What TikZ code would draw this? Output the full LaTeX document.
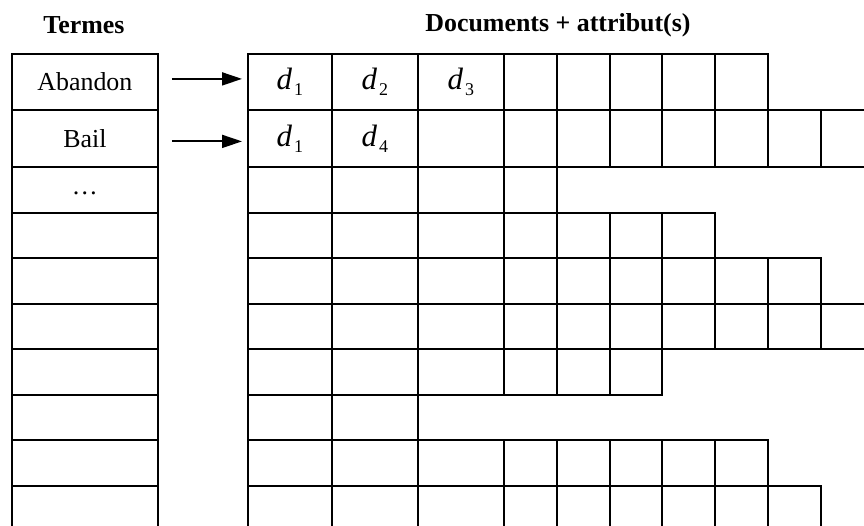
\documentclass[tikz,border=0pt]{standalone}
\usepackage{fontspec}
\setmainfont{Liberation Serif}
\usetikzlibrary{arrows.meta}
\usetikzlibrary{positioning}

\newcommand{\docd}[1]{{\fontsize{31}{32}\selectfont\textit{d}}\kern2bp{\fontsize{18}{20}\selectfont\raisebox{-6bp}{#1}}}
\newcommand{\colx}{{247,331,417,503,556,609,661,714,767,820,873,926}}

\tikzset{
  termbox/.style={draw, line width=1.8bp, inner sep=0pt, minimum width=146bp,
    anchor=north west, font=\fontsize{26}{30}\selectfont},
  cellbox/.style={draw, line width=1.8bp, inner sep=0pt, anchor=north west},
  headtext/.style={font=\bfseries\fontsize{26}{30}\selectfont},
  doclabel/.style={inner sep=0pt},
  pointer/.style={line width=1.8bp, -{Triangle[length=20bp, width=13bp]}}
}

\begin{document}
\begin{tikzpicture}[x=1bp, y=-1bp]
        \useasboundingbox (0,0) rectangle (864,526);
        \clip (0,0) rectangle (864,526);

        % Headings
        \node[headtext] (hterm) at (84,25) {Termes};
        \node[headtext] (hdoc) at (558,25) {Documents + attribut(s)};

        % Rows: number / top / height / cells / term
        \foreach \r/\ytop/\h/\n/\term in {1/53/56/8/Abandon, 2/109/57/10/Bail,
            3/166/46/4/{\raisebox{-5bp}[0pt][0pt]{\char"2026}}, 4/212/45/7/{}, 5/257/46/9/{},
            6/303/45/10/{}, 7/348/46/6/{}, 8/394/45/2/{},
            9/439/46/8/{}, 10/485/46/9/{}} {
          \node[termbox, minimum height=\h bp] (t\r) at (11,\ytop) {\term};
          \foreach \k in {1,...,\n} {
            \pgfmathsetmacro{\xl}{\colx[\k-1]}
            \pgfmathsetmacro{\w}{\colx[\k]-\xl}
            \node[cellbox, minimum width=\w bp, minimum height=\h bp] (c-\r-\k) at (\xl,\ytop) {};
          }
        }

        % Documents
        \node[doclabel] (d11) at (c-1-1) {\docd{1}};
        \node[doclabel] (d12) at (c-1-2) {\docd{2}};
        \node[doclabel] (d13) at (c-1-3) {\docd{3}};
        \node[doclabel] (d21) at (c-2-1) {\docd{1}};
        \node[doclabel] (d22) at (c-2-2) {\docd{4}};

        % Pointers
        \draw[pointer] ([xshift=13bp,yshift=3bp]t1.east) -- ([xshift=-5bp,yshift=3bp]c-1-1.west);
        \draw[pointer] ([xshift=13bp,yshift=-3bp]t2.east) -- ([xshift=-5bp,yshift=-3bp]c-2-1.west);
      \end{tikzpicture}
\end{document}
